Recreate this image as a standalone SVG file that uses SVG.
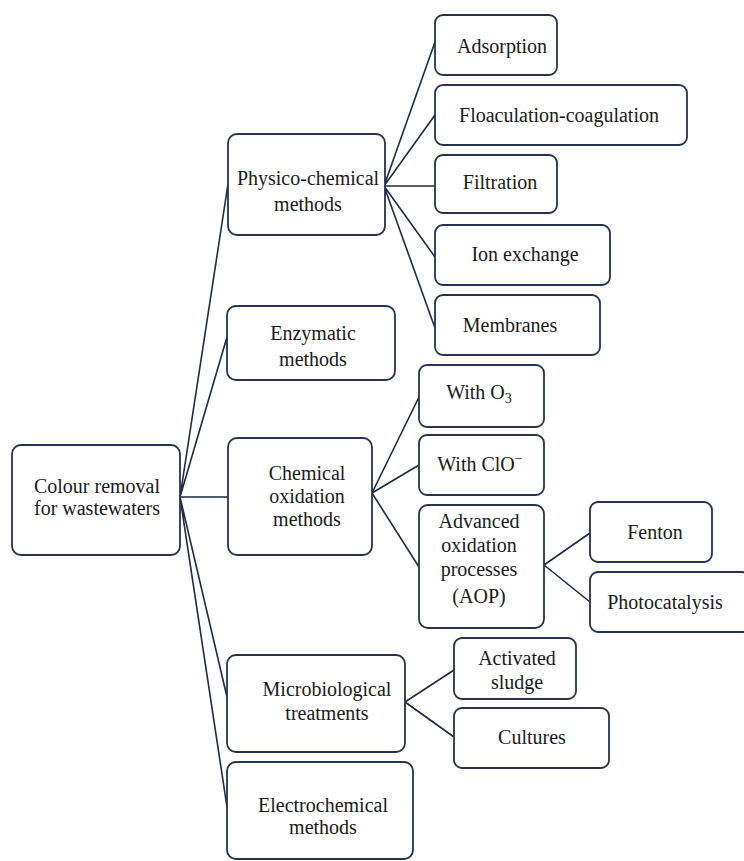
<svg xmlns="http://www.w3.org/2000/svg" width="744" height="861" viewBox="0 0 744 861">
<style>
.box{fill:#ffffff;stroke:#26324f;stroke-width:1.8}
.edge{fill:none;stroke:#1f2a44;stroke-width:1.6}
text{font-family:'Liberation Serif','Tinos','DejaVu Serif',serif;font-size:20px;fill:#1a1a1a;text-anchor:middle}
</style>
<rect width="744" height="861" fill="#ffffff"/>
<g id="connectors">
<path class="edge" d="M180,497 L228,184 M180,497 L227,337 M180,497 L228,497 M180,497 L227,697 M180,497 L227,807"/>
<path class="edge" d="M384,186 L435,42 M384,186 L435,115 M384,186 L435,186 M384,186 L435,257 M384,186 L435,328"/>
<path class="edge" d="M372,493 L419,397 M372,493 L419,465 M372,493 L419,567"/>
<path class="edge" d="M544,565 L590,533 M544,565 L590,602"/>
<path class="edge" d="M405,702 L454,670 M405,702 L454,737"/>
</g>
<g id="root"><rect class="box" x="12" y="445" width="168" height="110" rx="9"/><text x="97" y="493">Colour removal</text><text x="97" y="515">for wastewaters</text></g>
<g id="physico"><rect class="box" x="228" y="134" width="157" height="101" rx="9"/><text x="308" y="185">Physico-chemical</text><text x="308" y="211">methods</text></g>
<g id="enzymatic"><rect class="box" x="227" y="306" width="168" height="74" rx="9"/><text x="313" y="340">Enzymatic</text><text x="313" y="366">methods</text></g>
<g id="chemical"><rect class="box" x="228" y="438" width="144" height="117" rx="9"/><text x="307" y="480">Chemical</text><text x="307" y="503">oxidation</text><text x="307" y="526">methods</text></g>
<g id="microbiological"><rect class="box" x="227" y="655" width="178" height="97" rx="9"/><text x="327" y="696">Microbiological</text><text x="327" y="720">treatments</text></g>
<g id="electrochemical"><rect class="box" x="227" y="762" width="186" height="97" rx="9"/><text x="323" y="812">Electrochemical</text><text x="323" y="834">methods</text></g>
<g id="adsorption"><rect class="box" x="435" y="15" width="122" height="60" rx="8"/><text x="502" y="53">Adsorption</text></g>
<g id="floaculation"><rect class="box" x="435" y="85" width="252" height="60" rx="8"/><text x="559" y="122">Floaculation-coagulation</text></g>
<g id="filtration"><rect class="box" x="435" y="155" width="122" height="58" rx="8"/><text x="500" y="189">Filtration</text></g>
<g id="ionexchange"><rect class="box" x="435" y="225" width="175" height="60" rx="8"/><text x="525" y="261">Ion exchange</text></g>
<g id="membranes"><rect class="box" x="435" y="295" width="165" height="60" rx="8"/><text x="510" y="332">Membranes</text></g>
<g id="witho3"><rect class="box" x="419" y="365" width="125" height="62" rx="8"/><text x="479" y="399">With O<tspan font-size="14" dy="4">3</tspan></text></g>
<g id="withclo"><rect class="box" x="419" y="435" width="125" height="60" rx="8"/><text x="480" y="471">With ClO<tspan font-size="14" dy="-8">−</tspan></text></g>
<g id="aop"><rect class="box" x="419" y="505" width="125" height="123" rx="9"/><text x="479" y="528">Advanced</text><text x="479" y="552">oxidation</text><text x="479" y="576">processes</text><text x="479" y="603">(AOP)</text></g>
<g id="fenton"><rect class="box" x="590" y="502" width="122" height="60" rx="8"/><text x="655" y="539">Fenton</text></g>
<g id="photocatalysis"><rect class="box" x="590" y="572" width="160" height="60" rx="8"/><text x="665" y="609">Photocatalysis</text></g>
<g id="activated"><rect class="box" x="454" y="638" width="122" height="61" rx="8"/><text x="517" y="665">Activated</text><text x="517" y="689">sludge</text></g>
<g id="cultures"><rect class="box" x="454" y="708" width="155" height="60" rx="8"/><text x="532" y="744">Cultures</text></g>
</svg>
